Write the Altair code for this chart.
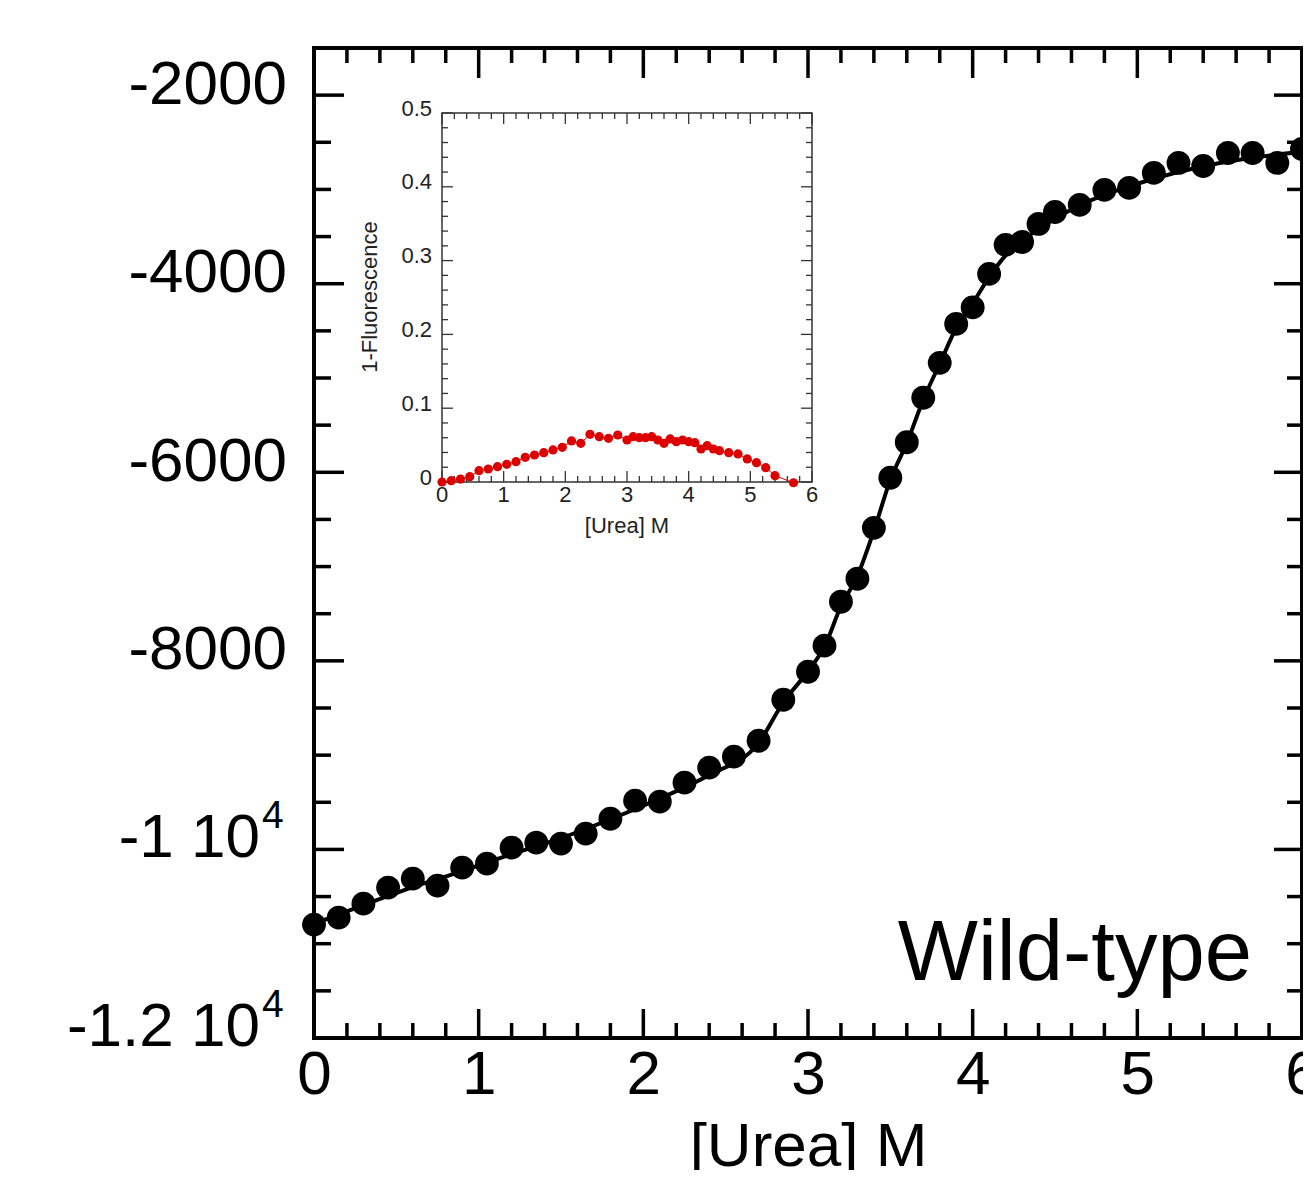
import altair as alt
import pandas as pd

# ---------------- main data (CD signal vs urea) ----------------
urea = [0.0, 0.15, 0.30, 0.45, 0.60, 0.75, 0.90, 1.05, 1.20, 1.35, 1.50, 1.65, 1.80, 1.95,
        2.10, 2.25, 2.40, 2.55, 2.70, 2.85, 3.0, 3.1, 3.2, 3.3, 3.4, 3.5, 3.6, 3.7, 3.8, 3.9,
        4.0, 4.1, 4.2, 4.3, 4.4, 4.5, 4.65, 4.80, 4.95, 5.10, 5.25, 5.40, 5.55, 5.70, 5.85, 6.0]
signal = [-10797, -10723, -10575, -10405, -10310, -10384, -10193, -10151, -9981, -9928,
          -9938, -9832, -9674, -9483, -9493, -9292, -9133, -9016, -8847, -8412,
          -8115, -7839, -7373, -7129, -6589, -6058, -5682, -5210, -4839, -4426,
          -4251, -3896, -3588, -3557, -3366, -3239, -3164, -3005, -2984, -2825,
          -2719, -2751, -2613, -2613, -2719, -2571]

# fitted curve
fit_x = [0.0, 0.3, 0.6, 0.9, 1.2, 1.5, 1.8, 2.1, 2.4, 2.7, 2.85, 3.0, 3.1, 3.2, 3.3, 3.4,
         3.5, 3.6, 3.7, 3.8, 3.9, 4.0, 4.1, 4.2, 4.4, 4.65, 5.0, 5.5, 6.0]
fit_y = [-10790, -10590, -10400, -10230, -10050, -9880, -9680, -9460, -9210, -8870, -8440,
         -8110, -7850, -7420, -7100, -6620, -6080, -5690, -5230, -4850, -4470, -4210, -3930,
         -3700, -3420, -3170, -2940, -2720, -2600]

# ---------------- inset data (1 - fluorescence) ----------------
inset_x = [0.0, 0.15, 0.30, 0.45, 0.60, 0.75, 0.90, 1.05, 1.20, 1.35, 1.50, 1.65, 1.80, 1.95,
           2.10, 2.25, 2.40, 2.55, 2.70, 2.85, 3.0, 3.1, 3.2, 3.3, 3.4, 3.5, 3.6, 3.7, 3.8,
           3.9, 4.0, 4.1, 4.2, 4.3, 4.4, 4.5, 4.65, 4.80, 4.95, 5.10, 5.25, 5.40, 5.70]
inset_y = [0.0, 0.0018, 0.004, 0.0072, 0.0153, 0.0176, 0.0207, 0.024, 0.0275, 0.0335,
           0.0366, 0.0397, 0.0434, 0.047, 0.0556, 0.0524, 0.0646, 0.0614, 0.0592, 0.0637,
           0.0569, 0.0614, 0.060, 0.060, 0.0614, 0.0569, 0.0524, 0.0583, 0.0546, 0.0569,
           0.0546, 0.0533, 0.0447, 0.0492, 0.0447, 0.0424, 0.0397, 0.038, 0.0312, 0.0262,
           0.0194, 0.0085, -0.001]

# ---------------- tick labels ----------------
main_x_ticks = [0, 1, 2, 3, 4, 5, 6]
main_y_plain = [-2000, -4000, -6000, -8000]
main_y_plain_text = ["-2000", "-4000", "-6000", "-8000"]
main_y_sci = [-10000, -12000]
main_y_sci_text = ["-1 10", "-1.2 10"]
main_y_sci_exp = ["4", "4"]
main_y_ticks = main_y_plain + main_y_sci
inset_x_ticks = [0, 1, 2, 3, 4, 5, 6]
inset_x_text = ["0", "1", "2", "3", "4", "5", "6"]
inset_y_ticks = [0, 0.1, 0.2, 0.3, 0.4, 0.5]
inset_y_text = ["0", "0.1", "0.2", "0.3", "0.4", "0.5"]

main_x_minor = [round(i * 0.2, 2) for i in range(31) if i % 5 != 0]
main_y_minor = [-12000 + 500 * i for i in range(22) if i % 4 != 0]
inset_x_minor = [round(i * 0.2, 2) for i in range(31) if i % 5 != 0]
inset_y_minor = [round(i * 0.02, 3) for i in range(26) if i % 5 != 0]

FONT = "Liberation Sans"
W, H = 988, 990

XM = alt.Scale(domain=[0, 6], nice=False, zero=False)
YM = alt.Scale(domain=[-12000, -1500], nice=False, zero=False)
XI = alt.Scale(domain=[0, 6], range=[128, 498], nice=False, zero=False)
YI = alt.Scale(domain=[0, 0.5], range=[434, 65], nice=False, zero=False)

XAX = alt.Axis(values=main_x_ticks, format="d", ticks=False, tickSize=0, domain=False,
               grid=False, labelFont=FONT, labelFontSize=62, labelColor="black",
               labelPadding=6, labelFlush=False, labelOverlap=False,
               title="[Urea] M", titleFont=FONT, titleFontSize=62, titleFontWeight="normal",
               titleColor="black", titleBaseline="alphabetic", titleAlign="center",
               titleX=W / 2, titleY=127)


def xticks(values, edge, length, width, color, sx, sy, ax, up):
    df = pd.DataFrame({"v": values, "e": [edge] * len(values)})
    return alt.Chart(df).mark_rule(strokeWidth=width, color=color,
                                   y2Offset=(-length if up else length)).encode(
        x=alt.X("v:Q", scale=sx, axis=ax),
        y=alt.Y("e:Q", scale=sy, axis=None),
        y2="e:Q")


def yticks(values, edge, length, width, color, sx, sy, ax, right):
    df = pd.DataFrame({"v": values, "e": [edge] * len(values)})
    return alt.Chart(df).mark_rule(strokeWidth=width, color=color,
                                   x2Offset=(length if right else -length)).encode(
        x=alt.X("e:Q", scale=sx, axis=ax),
        x2="e:Q",
        y=alt.Y("v:Q", scale=sy, axis=None))


# ---------------- main panel ----------------
main_df = pd.DataFrame({"urea": urea, "signal": signal})
fit_df = pd.DataFrame({"urea": fit_x, "signal": fit_y})

mframe = alt.Chart(pd.DataFrame({"x0": [0], "x1": [6], "y0": [-12000], "y1": [-1500]})).mark_rect(
    fillOpacity=0, stroke="black", strokeWidth=4).encode(
    x=alt.X("x0:Q", scale=XM, axis=XAX), x2="x1:Q",
    y=alt.Y("y0:Q", scale=YM, axis=None), y2="y1:Q")

fit_line = alt.Chart(fit_df).mark_line(color="black", strokeWidth=4, interpolate="monotone").encode(
    x=alt.X("urea:Q", scale=XM, axis=XAX),
    y=alt.Y("signal:Q", scale=YM, axis=None))

pts = alt.Chart(main_df).mark_circle(size=570, color="black", opacity=1).encode(
    x=alt.X("urea:Q", scale=XM, axis=XAX),
    y=alt.Y("signal:Q", scale=YM, axis=None))

plain_df = pd.DataFrame({"v": main_y_plain, "t": main_y_plain_text})
ylab = alt.Chart(plain_df).mark_text(align="right", baseline="alphabetic", fontSize=62,
                                     font=FONT, color="black", dy=8.5).encode(
    x=alt.value(-27), y=alt.Y("v:Q", scale=YM, axis=None), text="t:N")
sci_df = pd.DataFrame({"v": main_y_sci, "t": main_y_sci_text, "s": main_y_sci_exp})
ysci = alt.Chart(sci_df).mark_text(align="right", baseline="alphabetic", fontSize=62,
                                   font=FONT, color="black", dy=8).encode(
    x=alt.value(-54), y=alt.Y("v:Q", scale=YM, axis=None), text="t:N")
ysup = alt.Chart(sci_df).mark_text(align="left", baseline="alphabetic", fontSize=39,
                                   font=FONT, color="black", dy=-21).encode(
    x=alt.value(-52), y=alt.Y("v:Q", scale=YM, axis=None), text="s:N")

label = alt.Chart(pd.DataFrame({"t": ["Wild-type"]})).mark_text(
    align="right", baseline="alphabetic", fontSize=85, font=FONT, color="black").encode(
    x=alt.value(938), y=alt.value(932), text="t:N")

TW = 3.5
main_ticks = [
    xticks(main_x_ticks, -12000, 29, TW, "black", XM, YM, XAX, True),
    xticks(main_x_minor, -12000, 15, TW, "black", XM, YM, XAX, True),
    xticks(main_x_ticks, -1500, 30, TW, "black", XM, YM, XAX, False),
    xticks(main_x_minor, -1500, 15, TW, "black", XM, YM, XAX, False),
    yticks(main_y_ticks, 0, 30, TW, "black", XM, YM, XAX, True),
    yticks(main_y_minor, 0, 17, TW, "black", XM, YM, XAX, True),
    yticks(main_y_ticks, 6, 28, TW, "black", XM, YM, XAX, False),
    yticks(main_y_minor, 6, 15, TW, "black", XM, YM, XAX, False),
]

main = alt.layer(mframe, fit_line, *main_ticks, pts, ylab, ysci, ysup, label)

# ---------------- inset ----------------
IC = "#333333"
frame_df = pd.DataFrame({"x0": [0], "x1": [6], "y0": [0], "y1": [0.5]})
frame = alt.Chart(frame_df).mark_rect(fill="white", stroke=IC, strokeWidth=1.5).encode(
    x=alt.X("x0:Q", scale=XI, axis=None), x2="x1:Q",
    y=alt.Y("y0:Q", scale=YI, axis=None), y2="y1:Q")

inset_df = pd.DataFrame({"urea": inset_x, "f": inset_y})
iline = alt.Chart(inset_df).mark_line(color="#dd0000", strokeWidth=1).encode(
    x=alt.X("urea:Q", scale=XI, axis=None), y=alt.Y("f:Q", scale=YI, axis=None))
ipts = alt.Chart(inset_df).mark_circle(size=85, color="#dd0000", opacity=1).encode(
    x=alt.X("urea:Q", scale=XI, axis=None), y=alt.Y("f:Q", scale=YI, axis=None))

ITW = 1.3
inset_ticks = [
    xticks(inset_x_ticks, 0, 11, ITW, IC, XI, YI, None, True),
    xticks(inset_x_minor, 0, 6, ITW, IC, XI, YI, None, True),
    xticks(inset_x_ticks, 0.5, 11, ITW, IC, XI, YI, None, False),
    xticks(inset_x_minor, 0.5, 6, ITW, IC, XI, YI, None, False),
    yticks(inset_y_ticks, 0, 11, ITW, IC, XI, YI, None, True),
    yticks(inset_y_minor, 0, 6, ITW, IC, XI, YI, None, True),
    yticks(inset_y_ticks, 6, 11, ITW, IC, XI, YI, None, False),
    yticks(inset_y_minor, 6, 6, ITW, IC, XI, YI, None, False),
]

ixl_df = pd.DataFrame({"v": inset_x_ticks, "t": inset_x_text})
ixl = alt.Chart(ixl_df).mark_text(align="center", baseline="alphabetic", fontSize=22,
                                  font=FONT, color="#222222").encode(
    x=alt.X("v:Q", scale=XI, axis=None), y=alt.value(454), text="t:N")
iyl_df = pd.DataFrame({"v": inset_y_ticks, "t": inset_y_text})
iyl = alt.Chart(iyl_df).mark_text(align="right", baseline="alphabetic", fontSize=22,
                                  font=FONT, color="#222222", dy=2.5).encode(
    x=alt.value(118), y=alt.Y("v:Q", scale=YI, axis=None), text="t:N")
ixt = alt.Chart(pd.DataFrame({"t": ["[Urea] M"]})).mark_text(
    align="center", baseline="alphabetic", fontSize=22, font=FONT, color="#222222").encode(
    x=alt.value(313), y=alt.value(485), text="t:N")
iyt = alt.Chart(pd.DataFrame({"t": ["1-Fluorescence"]})).mark_text(
    align="center", baseline="middle", fontSize=22, font=FONT, color="#222222", angle=270).encode(
    x=alt.value(56), y=alt.value(249), text="t:N")

inset = alt.layer(frame, *inset_ticks, iline, ipts, ixl, iyl, ixt, iyt)

chart = alt.layer(main, inset).resolve_scale(x="independent", y="independent").properties(
    width=W, height=H,
    autosize=alt.AutoSizeParams(type="none"),
    padding={"left": 306, "top": 40, "right": 1, "bottom": 132},
).configure_view(strokeWidth=0).configure(background="white")

chart.save("out.html", embed_options={"renderer": "svg", "actions": False})
